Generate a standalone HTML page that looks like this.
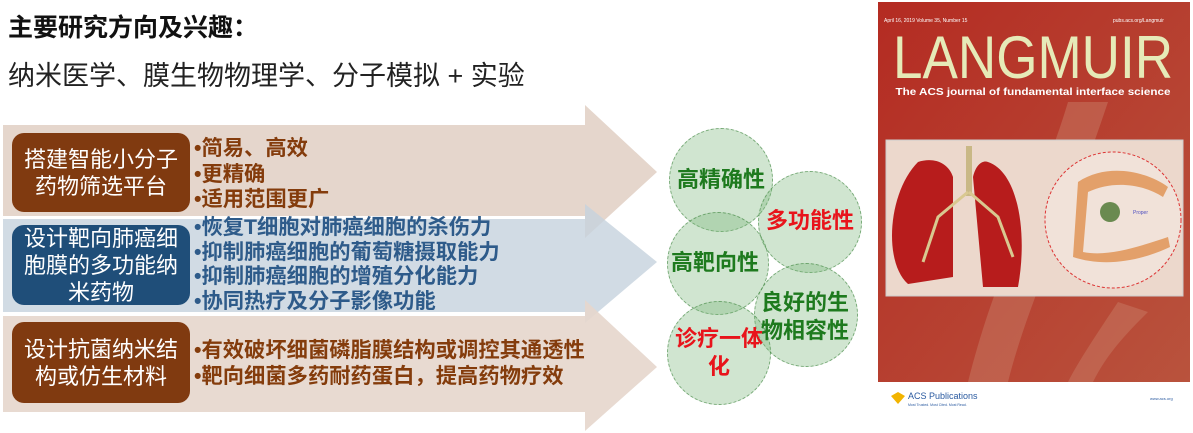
<!DOCTYPE html>
<html><head><meta charset="utf-8"><style>
*{margin:0;padding:0;box-sizing:border-box}
body{width:1193px;height:433px;background:#fff;position:relative;overflow:hidden;font-family:"Liberation Sans","Noto Sans CJK SC",sans-serif}
.a{position:absolute}
.box{position:absolute;left:12px;width:178px;border-radius:12px;color:#fff;font-size:22px;line-height:27px;text-align:center;display:flex;align-items:center;justify-content:center}
.bl{position:absolute;left:194px;font-size:21.3px;font-weight:bold;white-space:nowrap}
.c{position:absolute;border-radius:50%;background:rgba(120,180,120,0.35);border:1px dashed rgba(60,130,60,0.6);}
.ct{position:absolute;font-size:22px;font-weight:bold;line-height:28px;text-align:center;white-space:nowrap}
</style></head><body>
<div class="a" style="left:8px;top:8px;font-size:25px;font-weight:bold;color:#111">主要研究方向及兴趣：</div>
<div class="a" style="left:8px;top:54px;font-size:27px;color:#222">纳米医学、膜生物物理学、分子模拟 + 实验</div>

<svg class="a" style="left:0;top:0" width="670" height="433">
<polygon points="3,125 585,125 585,105 657,172 585,238 585,216 3,216" fill="#e5d6cc"/>
<polygon points="3,219 585,219 585,204 657,262 585,323 585,312 3,312" fill="#c5d2dd" fill-opacity="0.8"/>
<polygon points="3,316 585,316 585,300 657,367 585,431 585,412 3,412" fill="#e5d6cc" fill-opacity="0.9"/>
</svg>

<div class="box" style="top:133px;height:79px;background:#803a10">搭建智能小分子<br>药物筛选平台</div>
<div class="box" style="top:225px;height:80px;background:#1f4e79">设计靶向肺癌细<br>胞膜的多功能纳<br>米药物</div>
<div class="box" style="top:322px;height:81px;background:#803a10">设计抗菌纳米结<br>构或仿生材料</div>

<div class="bl" style="top:136px;line-height:25.5px;color:#843c0c">•简易、高效<br>•更精确<br>•适用范围更广</div>
<div class="bl" style="top:215px;line-height:24.5px;color:#2e5b8a">•恢复T细胞对肺癌细胞的杀伤力<br>•抑制肺癌细胞的葡萄糖摄取能力<br>•抑制肺癌细胞的增殖分化能力<br>•协同热疗及分子影像功能</div>
<div class="bl" style="top:338px;line-height:25.5px;color:#843c0c">•有效破坏细菌磷脂膜结构或调控其通透性<br>•靶向细菌多药耐药蛋白，提高药物疗效</div>

<div class="c" style="left:669px;top:128px;width:104px;height:104px"></div>
<div class="c" style="left:758px;top:171px;width:104px;height:102px"></div>
<div class="c" style="left:667px;top:212px;width:102px;height:103px"></div>
<div class="c" style="left:754px;top:263px;width:104px;height:104px"></div>
<div class="c" style="left:667px;top:301px;width:104px;height:104px"></div>
<div class="ct" style="left:671px;top:166px;width:100px;color:#1e7a1e">高精确性</div>
<div class="ct" style="left:760px;top:207px;width:100px;color:#e8141b">多功能性</div>
<div class="ct" style="left:665px;top:249px;width:100px;color:#1e7a1e">高靶向性</div>
<div class="ct" style="left:755px;top:289px;width:100px;color:#1e7a1e">良好的生<br>物相容性</div>
<div class="ct" style="left:667px;top:325px;width:104px;color:#e8141b">诊疗一体<br>化</div>

<svg class="a" style="left:878px;top:2px" width="313" height="410">
<defs><linearGradient id="g" x1="0" y1="0" x2="1" y2="1"><stop offset="0" stop-color="#b42b22"/><stop offset="1" stop-color="#b9533d"/></linearGradient></defs>
<rect x="0" y="0" width="312" height="380" fill="url(#g)"/>
<path d="M190,100 C160,200 120,260 90,380 L130,380 C150,300 190,220 230,100Z" fill="#c77a63" opacity="0.5"/>
<path d="M240,300 C220,330 200,360 190,380 L215,380 C230,350 250,330 270,310Z" fill="#c77a63" opacity="0.5"/>
<text x="6" y="20" font-size="5" fill="#fff">April 16, 2019  Volume 35, Number 15</text>
<text x="235" y="20" font-size="5" fill="#fff">pubs.acs.org/Langmuir</text>
<text x="155" y="76" font-size="60" text-anchor="middle" fill="#e6eab8" font-family="Liberation Sans" textLength="280" lengthAdjust="spacingAndGlyphs">LANGMUIR</text>
<text x="155" y="93" font-size="10" font-weight="bold" text-anchor="middle" fill="#fff" textLength="275" lengthAdjust="spacingAndGlyphs">The ACS journal of fundamental interface science</text>
<rect x="8" y="138" width="297" height="156" fill="#ecd8cc" stroke="#ccc"/>
<path d="M40,160 C10,190 5,260 30,282 L75,275 L75,175 C70,160 55,155 40,160Z" fill="#b71c1c"/>
<path d="M110,160 C140,170 150,230 140,285 L105,285 L95,175 C98,162 105,158 110,160Z" fill="#b71c1c"/>
<rect x="88" y="144" width="6" height="50" fill="#c9b886"/>
<path d="M90,190 L60,215 L45,260 M91,190 L120,215 L135,255" stroke="#d9c890" stroke-width="3" fill="none"/>
<circle cx="235" cy="218" r="68" fill="#f1e2d9" stroke="#d33" stroke-dasharray="3,2"/>
<path d="M200,180 C230,160 270,170 290,185 L285,195 C265,182 235,178 210,190 L205,250 C230,255 260,245 290,235 L292,245 C260,260 225,265 195,255Z" fill="#e3a06a"/>
<circle cx="232" cy="210" r="10" fill="#6a8a50"/>
<text x="255" y="212" font-size="5" fill="#5050c0">Proper</text>
<rect x="0" y="380" width="312" height="30" fill="#fff"/>
<text x="30" y="397" font-size="9" fill="#2a5aa0">ACS Publications</text>
<text x="30" y="404" font-size="3.5" fill="#2a5aa0">Most Trusted. Most Cited. Most Read.</text>
<polygon points="20,390 27,394 20,402 13,394" fill="#f2b400"/>
<text x="272" y="398" font-size="4" fill="#2a5aa0">www.acs.org</text>
</svg>
</body></html>
